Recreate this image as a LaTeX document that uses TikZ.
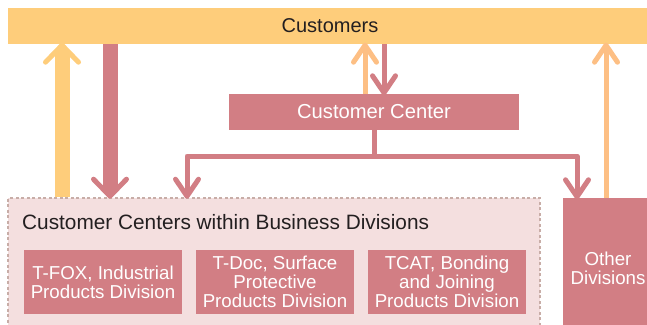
\documentclass[tikz,border=0pt]{standalone}
\usepackage{fontspec}
\setmainfont{Liberation Sans}
\usetikzlibrary{arrows.meta}
\definecolor{barYellow}{HTML}{FECD7B}
\definecolor{lightOrange}{HTML}{FDBF84}
\definecolor{rose}{HTML}{D27E84}
\definecolor{paleRose}{HTML}{F4DFDF}
\definecolor{dashGrey}{HTML}{C8ADA7}
\definecolor{ink}{HTML}{231F20}

\begin{document}
\begin{tikzpicture}[x=1pt,y=-1pt,
  box/.style={fill=rose, text=white, inner sep=0pt, align=center,
    font=\fontsize{18.7}{19}\selectfont},
  barb/.style={-{Straight Barb[length=17pt, width=23pt, line width=5pt, round]}},
  widebarb/.style={-{Straight Barb[length=17pt, width=33pt, line width=5pt, round]}},
  thinflow/.style={line width=5pt, barb, line join=round},
  thickshaft/.style={line width=15pt, shorten >=7pt},
]
\useasboundingbox (0,0) rectangle (647,324);
\clip (0,0) rectangle (647,324);

% top bar
\node[fill=barYellow, text=ink, minimum width=644pt, minimum height=36pt,
  inner sep=0pt, font=\fontsize{20}{22}\selectfont] (customers) at (330,26) {Customers};

% central customer center
\node[box, minimum width=290pt, minimum height=36pt,
  font=\fontsize{20.2}{22}\selectfont] (cc) at (374,112) {Customer Center};

% frame holding the division-level centers
\node[fill=paleRose, draw=dashGrey, line width=1.6pt, dash pattern=on 3pt off 2.5pt,
  minimum width=532pt, minimum height=140pt, inner sep=0pt] (frame) at (274,268) {};
\node[anchor=west, text=ink, font=\fontsize{20.8}{22}\selectfont, inner sep=0pt]
  (title) at (22,222) {Customer Centers within Business Divisions};

\node[box, minimum width=158pt, minimum height=64pt] (foxdiv) at (103,282)
  {T-FOX, Industrial\\Products Division};
\node[box, minimum width=158pt, minimum height=64pt] (docdiv) at (275,282)
  {T-Doc, Surface\\Protective\\Products Division};
\node[box, minimum width=158pt, minimum height=64pt] (catdiv) at (447,282)
  {TCAT, Bonding\\and Joining\\Products Division};

\node[box, minimum width=90pt, minimum height=140pt] (other) at (608,268)
  {Other\\Divisions};

% x positions of the vertical connectors
\coordinate (xl) at (62,0);
\coordinate (xd) at (110,0);
\coordinate (xu) at (365,0);
\coordinate (xm) at (384,0);
\coordinate (xb) at (187,0);
\coordinate (xo) at (577,0);
\coordinate (xr) at (606,0);
\coordinate (junction) at (374,156);

% broad flows between divisions and customers
\draw[barYellow, thickshaft] (frame.north -| xl) -- ([yshift=1.5pt]customers.south -| xl);
\draw[barYellow, thinflow, widebarb] (frame.north -| xl) -- ([yshift=1.5pt]customers.south -| xl);
\draw[rose, thickshaft] (customers.south -| xd) -- ([yshift=-1.5pt]frame.north -| xd);
\draw[rose, thinflow, widebarb] (customers.south -| xd) -- ([yshift=-1.5pt]frame.north -| xd);

% flows through the customer center
\draw[lightOrange, thinflow] (cc.north -| xu) -- ([yshift=1.5pt]customers.south -| xu);
\draw[rose, thinflow] (customers.south -| xm) -- ([yshift=-1.5pt]cc.north -| xm);
\draw[rose, line width=5pt] (cc.south) -- (junction);
\draw[rose, thinflow] (junction) -| ([yshift=-1.5pt]frame.north -| xb);
\draw[rose, thinflow] (junction) -| ([yshift=-1.5pt]other.north -| xo);

% other divisions to customers
\draw[lightOrange, thinflow] (other.north -| xr) -- ([yshift=1.5pt]customers.south -| xr);
\end{tikzpicture}
\end{document}
